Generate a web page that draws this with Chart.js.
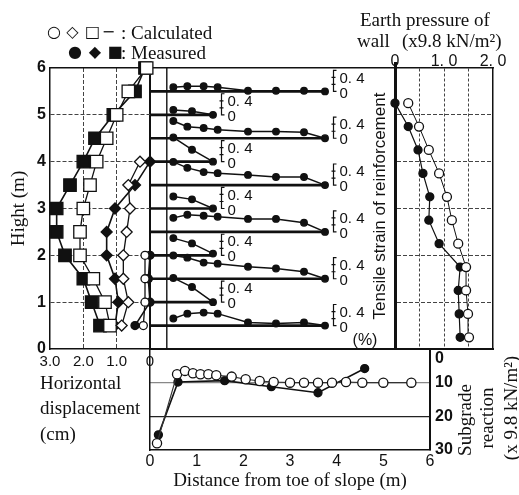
<!DOCTYPE html>
<html><head><meta charset="utf-8">
<script src="https://cdn.jsdelivr.net/npm/chart.js@4.4.1/dist/chart.umd.min.js"></script>
<style>
html,body{margin:0;padding:0;background:#fff;}
#wrap{position:relative;width:519px;height:495px;overflow:hidden;background:#fff;}
canvas{position:absolute;left:0;top:0;}
.t{position:absolute;white-space:nowrap;color:#111;line-height:1;}
.serif{font-family:'Liberation Serif','Times New Roman',serif;font-size:19px;}
.sans{font-family:'Liberation Sans Narrow','Liberation Sans',Arial,sans-serif;}
.g{font-family:'DejaVu Sans',sans-serif;font-size:16px;transform:translate(-50%,-50%);}
.mid{transform:translate(0,-50%);}
.rot{transform:translate(-50%,-50%) rotate(-90deg);}
</style></head><body>
<div id="wrap">
<canvas id="c4" width="519" height="495"></canvas>
<canvas id="c3" width="519" height="495"></canvas>
<canvas id="c2" width="519" height="495"></canvas>
<canvas id="c1" width="519" height="495"></canvas>

<span class="t g" style="left:54px;top:32px">○</span>
<span class="t g" style="left:72.5px;top:32px">◇</span>
<span class="t g" style="left:92.5px;top:32px">□</span>
<span class="t g" style="left:108.5px;top:32px">−</span>
<span class="t serif mid" style="left:121px;top:32px">: Calculated</span>
<span class="t g" style="left:75px;top:52px">●</span>
<span class="t g" style="left:95px;top:52px">◆</span>
<span class="t g" style="left:115px;top:52px">■</span>
<span class="t serif mid" style="left:121px;top:52px">: Measured</span>

<span class="t serif mid" style="left:360px;top:19px">Earth pressure of</span>
<span class="t serif mid" style="left:357px;top:40px">wall</span>
<span class="t serif mid" style="left:402px;top:40px">(x9.8 kN/m²)</span>

<span class="t serif mid" style="left:40px;top:382px">Horizontal</span>
<span class="t serif mid" style="left:40px;top:407px">displacement</span>
<span class="t serif mid" style="left:40px;top:433px">(cm)</span>

<span class="t serif rot" style="left:464px;top:420px">Subgrade</span>
<span class="t serif rot" style="left:486px;top:418px">reaction</span>
<span class="t serif rot" style="left:510px;top:408px">(x 9.8 kN/m²)</span>

<span class="t sans" style="left:365px;top:340px;font-size:16px;transform:translate(-50%,-50%)">(%)</span>
<span class="t sans rot" style="left:379px;top:206px;font-size:17px">Tensile strain of reinforcement</span>
</div>
<script>
// ---------------- data ----------------
// Horizontal displacement (cm) vs height (m)
const dispHeights = [0.5, 1, 1.5, 2, 2.5, 3, 3.5, 4, 4.5, 5, 5.5, 6];
const sqCalc = [1.2, 1.35, 1.7, 2.1, 2.1, 2.0, 1.8, 1.6, 1.3, 1.0, 0.65, 0.1];
const sqMeas = [1.5, 1.75, 2.0, 2.55, 2.8, 2.8, 2.4, 2.0, 1.65, 1.1, 0.45, 0.15];
const diaHeights = [0.5, 1, 1.5, 2, 2.5, 3, 3.5, 4];
const diaCalc = [0.85, 0.65, 0.8, 0.8, 0.7, 0.6, 0.65, 0.3];
const diaMeas = [1.05, 0.95, 1.05, 1.3, 1.3, 1.05, 0.45, 0.0];
const cirHeights = [0.5, 1, 1.5, 2];
const cirCalc = [0.2, 0.15, 0.15, 0.15];
const cirMeas = [0.45, 0.0, 0.05, 0.0];
const dispTickLabels = ['0', '1.0', '2.0', '3.0'];

// Tensile strain of reinforcement (%) along each layer
const layerHeights = [5.5, 5.0, 4.5, 4.0, 3.5, 3.0, 2.5, 2.0, 1.5, 1.0, 0.5];
const longX = [0.5, 0.8, 1.15, 1.45, 2.1, 2.7, 3.3, 3.75];
const shortX = [0.5, 0.9, 1.35];
const strainL55 = [0.12, 0.15, 0.15, 0.12, 0.02, 0.02, 0.02, 0];
const strainS50 = [0.14, 0.10, 0];
const strainL45 = [0.49, 0.33, 0.29, 0.24, 0.19, 0.19, 0.17, 0];
const strainS40 = [0.69, 0.34, 0];
const strainL35 = [0.66, 0.49, 0.37, 0.34, 0.29, 0.23, 0.23, 0];
const strainS30 = [0.34, 0.26, 0];
const strainL25 = [0.40, 0.49, 0.46, 0.43, 0.37, 0.37, 0.26, 0];
const strainS20 = [0.49, 0.34, 0.05];
const strainL15 = [0.66, 0.60, 0.46, 0.43, 0.34, 0.29, 0.20, 0];
const strainS10 = [0.69, 0.43, 0];
const strainL05 = [0.20, 0.34, 0.37, 0.34, 0.09, 0.06, 0.09, 0];
const strainLayers = [strainL55, strainS50, strainL45, strainS40, strainL35, strainS30,
                      strainL25, strainS20, strainL15, strainS10, strainL05];
const strainTickValues = [0, 0.4];
const strainTickLabels = ['0', '0. 4'];
const wallFace = 0.36;

// Earth pressure of wall (x9.8 kN/m2) vs height
const epHeights = [0.25, 0.75, 1.25, 1.75, 2.25, 2.75, 3.25, 3.75, 4.25, 4.75, 5.25];
const epCalc = [1.51, 1.49, 1.45, 1.45, 1.29, 1.16, 1.06, 0.90, 0.69, 0.49, 0.27];
const epMeas = [1.33, 1.31, 1.29, 1.33, 0.90, 0.69, 0.71, 0.57, 0.47, 0.27, 0.0];
const epTickLabels = {0: '0', 1: '1. 0', 2: '2. 0'};

// Subgrade reaction (x9.8 kN/m2) vs distance from toe of slope (m)
const sgDistCalc = [0.15, 0.58, 0.75, 0.92, 1.08, 1.25, 1.42, 1.75, 2.05, 2.35, 2.65, 3.0, 3.3, 3.6, 3.9, 4.2, 4.55, 5.0, 5.6];
const sgCalc = [28, 7.5, 6.5, 7.2, 7.5, 7.5, 7.8, 8.2, 9.0, 9.5, 9.8, 10, 10, 10, 10, 9.8, 10, 10, 10];
const sgDistMeas = [0.18, 0.6, 1.6, 2.6, 3.6, 4.6];
const sgMeas = [25.5, 9.8, 9.4, 11.2, 13.0, 5.8];

// ---------------- helpers ----------------
const INK = '#111';
const CLEAR = 'rgba(0,0,0,0)';
const SANS = "'Liberation Sans Narrow','Liberation Sans',Arial,sans-serif";
const SERIF = "'Liberation Serif','Times New Roman',serif";
const STRAIN_K = 0.75; // height units per 1 % strain (drawing scale of the strain plots)

Chart.defaults.color = INK;
Chart.defaults.font.family = SANS;

const pts = (xs, ys) => xs.map((v, i) => ({x: v, y: ys[i]}));
function series(xs, ys, style) {
  return Object.assign({
    data: pts(xs, ys), borderColor: INK, borderWidth: 1.3,
    pointBorderColor: INK, pointBorderWidth: 1.3, clip: false, fill: false, tension: 0
  }, style);
}
function edge(pos, width) {
  return {
    type: 'linear', position: pos, display: true, min: 0, max: 1,
    ticks: {display: false}, grid: {display: false, drawTicks: false},
    border: {display: true, color: INK, width: width},
    afterFit: s => { if (s.isHorizontal()) s.height = 0; else s.width = 0; }
  };
}
function cfg(padding, scales, datasets, plugins) {
  return {
    type: 'line',
    data: {datasets},
    options: {
      responsive: false, animation: false, events: [], devicePixelRatio: 1,
      layout: {padding},
      plugins: {legend: {display: false}, tooltip: {enabled: false}},
      scales
    },
    plugins: plugins || []
  };
}
const gridAt = (vals, col) => c => (c.tick && vals.includes(c.tick.value)) ? col : CLEAR;

// ---------------- chart 1 : horizontal displacement ----------------
new Chart(document.getElementById('c1'), cfg(
  {left: 0, top: 68, right: 369, bottom: 116},
  {
    x: {
      type: 'linear', position: 'bottom', reverse: true, min: 0, max: 3,
      ticks: {stepSize: 1, autoSkip: false, maxRotation: 0, padding: 4,
              font: {size: 15}, callback: v => dispTickLabels[Math.round(v)]},
      grid: {drawTicks: false, color: gridAt([1, 2], '#444'), lineWidth: 1},
      border: {display: true, color: INK, width: 1.5, dash: [4, 2]},
      afterFit: s => { s.height = 30; }
    },
    y: {
      type: 'linear', position: 'left', min: 0, max: 6,
      ticks: {stepSize: 1, autoSkip: false, padding: 4, font: {size: 16, weight: 'bold'}},
      grid: {drawTicks: false, color: gridAt([1, 2, 3, 4, 5], '#444'), lineWidth: 1},
      border: {display: true, color: INK, width: 1.5, dash: [4, 2]},
      title: {display: true, text: 'Hight (m)', font: {family: SERIF, size: 19}, padding: {top: 8, bottom: 0}},
      afterFit: s => { s.width = 50; }
    },
    xTop: edge('top', 1.5)
  },
  [
    series(cirCalc, cirHeights, {pointStyle: 'circle', pointRadius: 4, pointBackgroundColor: '#fff'}),
    series(diaCalc, diaHeights, {pointStyle: 'rectRot', pointRadius: 5.5, pointBackgroundColor: '#fff'}),
    series(sqCalc, dispHeights, {pointStyle: 'rect', pointRadius: 8.8, pointBackgroundColor: '#fff'}),
    series(cirMeas, cirHeights, {pointStyle: 'circle', pointRadius: 4, pointBackgroundColor: INK, borderWidth: 1.6}),
    series(diaMeas, diaHeights, {pointStyle: 'rectRot', pointRadius: 5.5, pointBackgroundColor: INK, borderWidth: 1.6}),
    series(sqMeas, dispHeights, {pointStyle: 'rect', pointRadius: 8.8, pointBackgroundColor: INK, borderWidth: 1.6})
  ]
));

// ---------------- chart 2 : tensile strain of reinforcement ----------------
const strainDatasets = [];
layerHeights.forEach((h, i) => {
  const xs = (i % 2 === 0) ? longX : shortX;
  const s = strainLayers[i];
  strainDatasets.push(series(xs, s.map(v => h + v * STRAIN_K),
    {pointStyle: 'circle', pointRadius: 3.3, pointBackgroundColor: INK, borderWidth: 1.5, clip: true}));
  strainDatasets.push(series([0, xs[xs.length - 1]], [h, h],
    {pointRadius: 0, borderWidth: 2.6, clip: true}));
});
strainDatasets.push(series([wallFace, wallFace], [0, 6], {pointRadius: 0, borderWidth: 1.4}));

const strainAxes = {
  id: 'strainAxes',
  afterDatasetsDraw(chart) {
    const {ctx, scales: {x, y}} = chart;
    ctx.save();
    ctx.strokeStyle = INK; ctx.fillStyle = INK; ctx.lineWidth = 1.2;
    ctx.font = '15px ' + SANS;
    ctx.textAlign = 'left'; ctx.textBaseline = 'middle';
    layerHeights.forEach((h, i) => {
      const xs = (i % 2 === 0) ? longX : shortX;
      const bx = Math.round(x.getPixelForValue(xs[xs.length - 1] + 0.17)) + 0.5;
      const y0 = y.getPixelForValue(h);
      const yTop = y.getPixelForValue(h + 0.6 * STRAIN_K);
      ctx.beginPath();
      ctx.moveTo(bx + 3, yTop); ctx.lineTo(bx, yTop); ctx.lineTo(bx, y0); ctx.lineTo(bx + 3, y0);
      [0.2, 0.4].forEach(v => {
        const yy = y.getPixelForValue(h + v * STRAIN_K);
        ctx.moveTo(bx - 2, yy); ctx.lineTo(bx + 2, yy);
      });
      ctx.stroke();
      strainTickValues.forEach((v, k) => {
        const yy = y.getPixelForValue(h + v * STRAIN_K);
        ctx.fillText(strainTickLabels[k], bx + 6, v === 0 ? yy + 2 : yy + 1);
      });
    });
    ctx.restore();
  }
};

new Chart(document.getElementById('c2'), cfg(
  {left: 150, top: 68, right: 124, bottom: 146},
  {
    x: Object.assign(edge('bottom', 2), {min: 0, max: 5.25}),
    y: Object.assign(edge('left', 2), {min: 0, max: 6}),
    xTop: edge('top', 1.5)
  },
  strainDatasets,
  [strainAxes]
));

// ---------------- chart 3 : earth pressure of wall ----------------
new Chart(document.getElementById('c3'), cfg(
  {left: 395, top: 48, right: 26, bottom: 146},
  {
    x: {
      type: 'linear', position: 'top', min: 0, max: 2,
      ticks: {stepSize: 0.5, autoSkip: false, maxRotation: 0, padding: -9, font: {size: 16},
              callback: v => epTickLabels[v] !== undefined ? epTickLabels[v] : ''},
      grid: {drawTicks: true, tickLength: 6,
             tickColor: c => (c.tick && c.tick.value === 0) ? INK : CLEAR,
             tickWidth: 3,
             color: gridAt([0.5, 1, 1.5], '#444'), lineWidth: 1},
      border: {display: true, color: INK, width: 1.5, dash: [3, 2]},
      afterFit: s => { s.height = 20; }
    },
    y: {
      type: 'linear', position: 'left', min: 0, max: 6,
      ticks: {display: false, stepSize: 1},
      grid: {drawTicks: false, color: gridAt([1, 2, 3, 4, 5], '#444'), lineWidth: 1},
      border: {display: true, color: INK, width: 3, dash: [4, 2]},
      afterFit: s => { s.width = 0; }
    },
    yRight: edge('right', 1.5),
    xBottom: edge('bottom', 2)
  },
  [
    series(epCalc, epHeights, {pointStyle: 'circle', pointRadius: 4.5, pointBackgroundColor: '#fff', borderWidth: 1}),
    series(epMeas, epHeights, {pointStyle: 'circle', pointRadius: 4, pointBackgroundColor: INK, borderWidth: 1.2})
  ]
));

// ---------------- chart 4 : subgrade reaction ----------------
new Chart(document.getElementById('c4'), cfg(
  {left: 150, top: 349, right: 0, bottom: 0},
  {
    x: {
      type: 'linear', position: 'bottom', min: 0, max: 6,
      ticks: {stepSize: 1, autoSkip: false, maxRotation: 0, padding: 2, font: {size: 16}},
      grid: {display: false, drawTicks: false},
      border: {display: true, color: INK, width: 1.5},
      title: {display: true, text: 'Distance from toe of slope (m)', font: {family: SERIF, size: 19},
              padding: {top: 0, bottom: 3}},
      afterFit: s => { s.height = 45; }
    },
    y: {
      type: 'linear', position: 'right', reverse: true, min: 0, max: 30,
      ticks: {stepSize: 10, autoSkip: false, padding: 5, font: {size: 16, weight: 'bold'},
              callback: v => v === 0 ? ['', '0'] : String(v)},
      grid: {drawTicks: false, lineWidth: 1.2,
             color: c => !c.tick ? CLEAR : (c.tick.value === 10 ? '#888' : (c.tick.value === 20 ? '#222' : CLEAR))},
      border: {display: true, color: INK, width: 2},
      afterFit: s => { s.width = 89; }
    },
    yLeft: edge('left', 1.5)
  },
  [
    series(sgDistCalc, sgCalc, {pointStyle: 'circle', pointRadius: 4.6, pointBackgroundColor: '#fff', borderWidth: 1.1, borderColor: '#333'}),
    series(sgDistMeas, sgMeas, {pointStyle: 'circle', pointRadius: 4, pointBackgroundColor: INK, borderWidth: 1.6})
  ]
));
</script>
</body></html>
